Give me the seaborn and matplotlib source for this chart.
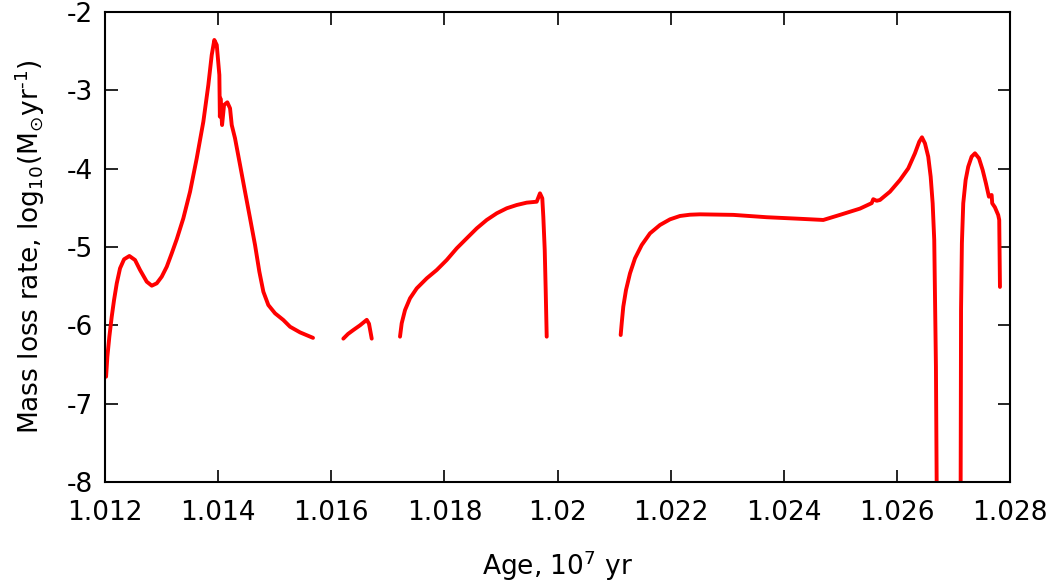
import numpy as np
import pandas as pd
import matplotlib
matplotlib.use("Agg")
import matplotlib.pyplot as plt
import seaborn as sns

# ---- data ----
seg1_age = [1.012018, 1.012041, 1.012076, 1.012118, 1.012159, 1.012207, 1.012265, 1.012336,
            1.012430, 1.012530, 1.012619, 1.012737, 1.012826, 1.012914, 1.013002, 1.013091,
            1.013179, 1.013268, 1.013384, 1.013503, 1.013621, 1.013738, 1.013826, 1.013886,
            1.013932, 1.013975, 1.014021, 1.014030, 1.014040, 1.014069, 1.014104, 1.014162,
            1.014210, 1.014240, 1.014298, 1.014387, 1.014475, 1.014564, 1.014652, 1.014728,
            1.014799, 1.014887, 1.015006, 1.015152, 1.015271, 1.015447, 1.015677]
seg1_val = [-6.656, -6.400, -6.145, -5.890, -5.677, -5.464, -5.272, -5.157,
            -5.115, -5.166, -5.294, -5.443, -5.494, -5.464, -5.379, -5.252,
            -5.081, -4.900, -4.634, -4.294, -3.868, -3.400, -2.932, -2.549,
            -2.357, -2.421, -2.804, -3.336, -3.102, -3.443, -3.187, -3.153,
            -3.230, -3.443, -3.612, -3.953, -4.294, -4.634, -4.975, -5.315,
            -5.571, -5.741, -5.847, -5.932, -6.018, -6.090, -6.160]

seg2_age = [1.016213, 1.016296, 1.016390, 1.016508, 1.016627, 1.016667, 1.016715]
seg2_val = [-6.170, -6.110, -6.060, -6.000, -5.930, -5.980, -6.170]

seg3_age = [1.017215, 1.017245, 1.017304, 1.017392, 1.017511, 1.017688, 1.017864, 1.018041,
            1.018218, 1.018395, 1.018572, 1.018748, 1.018925, 1.019102, 1.019279, 1.019455,
            1.019632, 1.019690, 1.019731, 1.019749, 1.019774, 1.019791, 1.019809]
seg3_val = [-6.145, -5.974, -5.805, -5.655, -5.528, -5.400, -5.294, -5.166,
            -5.017, -4.889, -4.762, -4.655, -4.570, -4.506, -4.464, -4.434,
            -4.422, -4.315, -4.379, -4.613, -5.038, -5.549, -6.145]

seg4_age = [1.021117, 1.021135, 1.021163, 1.021211, 1.021282, 1.021370, 1.021489, 1.021635,
            1.021812, 1.021989, 1.022166, 1.022342, 1.022519, 1.023108, 1.023698, 1.024287,
            1.024699, 1.024994, 1.025348, 1.025555, 1.025583, 1.025643, 1.025701, 1.025878,
            1.026055, 1.026202, 1.026320, 1.026396, 1.026444, 1.026497, 1.026555, 1.026598,
            1.026633, 1.026661, 1.026691, 1.026704, 1.026710]
seg4_val = [-6.124, -5.974, -5.762, -5.549, -5.336, -5.145, -4.975, -4.826,
            -4.719, -4.647, -4.604, -4.588, -4.583, -4.590, -4.620, -4.640,
            -4.655, -4.590, -4.510, -4.440, -4.390, -4.410, -4.400, -4.294,
            -4.145, -3.996, -3.804, -3.656, -3.600, -3.677, -3.847, -4.103,
            -4.442, -4.911, -6.530, -8.010, -9.000]

seg5_age = [1.027120, 1.027128, 1.027135, 1.027150, 1.027174, 1.027216, 1.027262, 1.027322,
            1.027381, 1.027452, 1.027517, 1.027575, 1.027628, 1.027676, 1.027686, 1.027734,
            1.027792, 1.027810, 1.027823]
seg5_val = [-9.000, -8.010, -5.800, -4.950, -4.442, -4.145, -3.975, -3.847,
            -3.804, -3.868, -4.017, -4.187, -4.358, -4.336, -4.442, -4.493,
            -4.592, -4.655, -5.510]

x_ticks = [1.012, 1.014, 1.016, 1.018, 1.020, 1.022, 1.024, 1.026, 1.028]
x_tick_labels = ["1.012", "1.014", "1.016", "1.018", "1.02", "1.022", "1.024", "1.026", "1.028"]
y_ticks = [-8, -7, -6, -5, -4, -3, -2]
y_tick_labels = ["-8", "-7", "-6", "-5", "-4", "-3", "-2"]

segments = [(seg1_age, seg1_val), (seg2_age, seg2_val), (seg3_age, seg3_val),
            (seg4_age, seg4_val), (seg5_age, seg5_val)]
df = pd.concat([pd.DataFrame({"age": a, "val": v, "seg": i})
                for i, (a, v) in enumerate(segments)], ignore_index=True)

sns.set_style("white")
plt.rcParams["font.family"] = ["DejaVu Sans"]
plt.rcParams["axes.unicode_minus"] = False
plt.rcParams["mathtext.fontset"] = "dejavusans"
plt.rcParams["text.color"] = "black"
plt.rcParams["axes.labelcolor"] = "black"

fig = plt.figure(figsize=(10.59, 5.88), dpi=100)
ax = fig.add_axes([0.0992, 0.1803, 0.8545, 0.7993])

sns.lineplot(data=df, x="age", y="val", units="seg", estimator=None, sort=False,
             color="#ff0000", linewidth=2.8, ax=ax, legend=False)
for ln in ax.get_lines():
    ln.set_solid_joinstyle("round")
    ln.set_solid_capstyle("round")

ax.set_xlim(1.012, 1.028)
ax.set_ylim(-8, -2)
ax.set_xticks(x_ticks)
ax.set_xticklabels(x_tick_labels)
ax.set_yticks(y_ticks)
ax.set_yticklabels(y_tick_labels)
ax.tick_params(direction="in", length=9, width=1.2, top=True, right=True,
               bottom=True, left=True, labelsize=19, colors="black", pad=9)
ax.tick_params(axis="x", pad=13)
for s in ax.spines.values():
    s.set_visible(True)
    s.set_color("black")
    s.set_linewidth(1.5)

ax.set_xlabel(r"Age, 10$^7$ yr", fontsize=19, labelpad=16, color="black")
try:
    ylab = r"Mass loss rate, log$_{10}$(M$_{\odot}$yr$^{\text{-}1}$)"
    ax.set_ylabel(ylab, fontsize=19, labelpad=14, color="black")
    fig.canvas.draw()
except Exception:
    ylab = r"Mass loss rate, log$_{10}$(M$_{\odot}$yr$^{-1}$)"
    ax.set_ylabel(ylab, fontsize=19, labelpad=14, color="black")

fig.savefig("out.png", dpi=100)
